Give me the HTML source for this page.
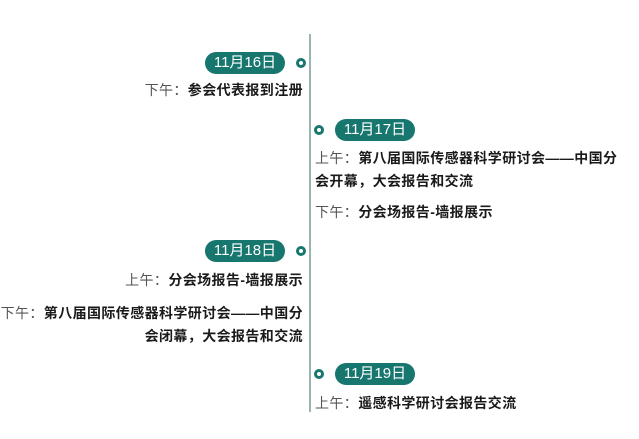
<!DOCTYPE html>
<html><head><meta charset="utf-8"><style>
body{margin:0;width:639px;height:439px;background:#fff;position:relative;overflow:hidden;font-family:"Liberation Sans","Noto Sans CJK SC",sans-serif;}
.line{position:absolute;left:309px;top:34px;width:2px;height:378px;background:#9bb3b1;}
.pill{position:absolute;width:80px;height:22px;border-radius:11px;background:#17776f;color:#fff;font-size:15px;line-height:22px;text-align:center;}
.dot{position:absolute;width:4px;height:4px;border:3px solid #17776f;border-radius:50%;background:#fff;}
.t{position:absolute;font-size:14px;line-height:23px;color:#222;white-space:nowrap;letter-spacing:0.4px;}
.t span{color:#555;font-weight:normal;}
.t b{font-weight:bold;color:#1a1a1a;}
.r{text-align:right;}
</style></head><body>
<div class="line"></div>
<div class="pill" style="left:205px;top:52px">11月16日</div>
<div class="dot" style="left:296px;top:58px"></div>
<div class="t r" style="right:336px;top:79px"><span>下午：</span><b>参会代表报到注册</b></div>

<div class="pill" style="left:335px;top:119px">11月17日</div>
<div class="dot" style="left:314px;top:125px"></div>
<div class="t" style="left:315px;top:147px"><span>上午：</span><b>第八届国际传感器科学研讨会——中国分</b><br><b>会开幕，大会报告和交流</b></div>
<div class="t" style="left:315px;top:201px"><span>下午：</span><b>分会场报告-墙报展示</b></div>

<div class="pill" style="left:205px;top:240px">11月18日</div>
<div class="dot" style="left:296px;top:246px"></div>
<div class="t r" style="right:336px;top:269px"><span>上午：</span><b>分会场报告-墙报展示</b></div>
<div class="t r" style="right:336px;top:302px"><span>下午：</span><b>第八届国际传感器科学研讨会——中国分</b><br><b>会闭幕，大会报告和交流</b></div>

<div class="pill" style="left:335px;top:363px">11月19日</div>
<div class="dot" style="left:314px;top:369px"></div>
<div class="t" style="left:315px;top:392px"><span>上午：</span><b>遥感科学研讨会报告交流</b></div>
</body></html>
